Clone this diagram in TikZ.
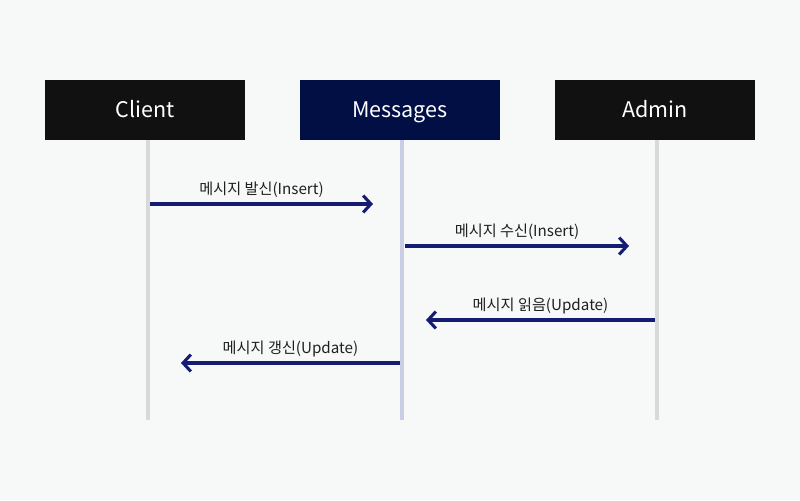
\documentclass[tikz,border=0pt]{standalone}
\usepackage{fontspec}
\setmainfont{Noto Sans CJK KR}
\usetikzlibrary{arrows.meta}
\definecolor{bgcol}{HTML}{F7F8F8}
\definecolor{boxdark}{HTML}{111111}
\definecolor{boxnavy}{HTML}{010F45}
\definecolor{lifegray}{HTML}{D9D9D9}
\definecolor{lifenavy}{HTML}{C9CDE5}
\definecolor{msgcol}{HTML}{141C73}

\begin{document}
\begin{tikzpicture}[x=0.025cm, y=-0.025cm,
	actor/.style = {minimum width=5cm, minimum height=1.5cm, inner sep=0pt, text=white, text height=11.2pt, text depth=0pt, font=\fontsize{15.3}{17}\selectfont},
	life/.style = {line width=3.5pt},
	msg/.style = {line width=2.2pt, draw=msgcol, -{Straight Barb[length=5.5pt, width=12pt, line width=2.2pt]}},
	msglabel/.style = {font=\fontsize{10.8}{12}\selectfont, text=black!88}]

\fill[bgcol] (0,0) rectangle (800,500);

\node[actor, fill = boxdark] (client) at (145,110) {Client};
\node[actor, fill = boxnavy] (messages) at (400,110) {Messages};
\node[actor, fill = boxdark] (admin) at (655,110) {Admin};

\coordinate (clientend) at (148,420);
\coordinate (messagesend) at (402,420);
\coordinate (adminend) at (657,420);

\draw[life, lifegray] (client.south -| clientend) -- (clientend);
\draw[life, lifenavy] (messages.south -| messagesend) -- (messagesend);
\draw[life, lifegray] (admin.south -| adminend) -- (adminend);

\coordinate (send a) at (150,204);
\coordinate (send b) at (373,204);
\coordinate (recv a) at (405,246);
\coordinate (recv b) at (629,246);
\coordinate (read a) at (655,320);
\coordinate (read b) at (426,320);
\coordinate (upd a) at (400,363);
\coordinate (upd b) at (181,363);

\draw[msg] (send a) -- (send b) node[msglabel, midway, above=0pt] {메시지 발신(Insert)};
\draw[msg] (recv a) -- (recv b) node[msglabel, midway, above=0pt] {메시지 수신(Insert)};
\draw[msg] (read a) -- (read b) node[msglabel, midway, above=0pt] {메시지 읽음(Update)};
\draw[msg] (upd a) -- (upd b) node[msglabel, midway, above=0pt] {메시지 갱신(Update)};
\end{tikzpicture}
\end{document}
